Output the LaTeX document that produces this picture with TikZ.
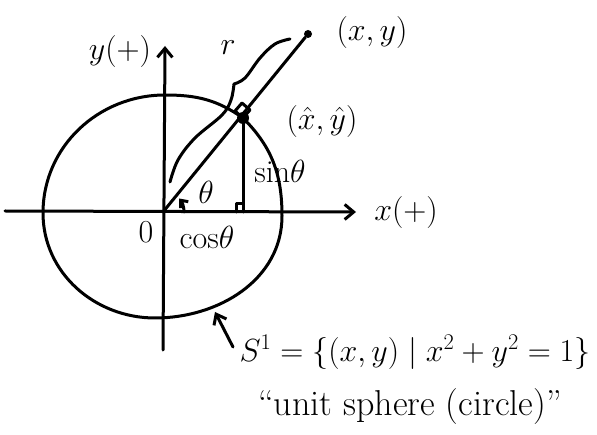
\documentclass[tikz,border=0pt]{standalone}
\usepackage{fix-cm}
\usepackage{amsmath,amssymb}
\usepackage{fontspec}
\usetikzlibrary{arrows.meta}

\begin{document}
\begin{tikzpicture}[
  x=1pt,y=1pt,
  pen/.style={line width=3pt, line cap=round, line join=round},
  axis/.style={pen, -{Straight Barb[length=9pt,width=15pt]}},
  lab/.style={font=\fontsize{32}{36}\selectfont, inner sep=0pt},
  dot/.style={circle, fill, inner sep=0pt, minimum size=#1}
]
\useasboundingbox (0,0) rectangle (597,434);

% -------------------------
% Axes
% -------------------------
\coordinate (O) at (163,222);
\coordinate (xl) at (5,223);
\coordinate (xr) at (356,222);
\coordinate (yb) at (163,84);
\coordinate (yt) at (165,388);
\draw[axis] (xl) -- (xr);
\draw[axis] (yb) -- (yt);
\node[lab] (xlab) at (406,221) {$x(+)$};
\node[lab] (ylab) at (120,382) {$y(+)$};
\node[lab] (olab) at (146,202) {$0$};

% -------------------------
% Ray, points and projection
% -------------------------
\node[dot=8pt] (P) at (308,400) {};
\node[dot=12pt] (Q) at (243,316) {};
\coordinate (F) at (243,222);

% unit circle (hand drawn), through Q
\draw[pen] (43,221) to[out=-90,in=180] (155,116)
  to[out=0,in=-90] (282,218) to[out=90,in=-45] (Q.center)
  to[out=145,in=0] (165,339) to[out=180,in=90] cycle;

\draw[pen] (O) -- (P);
\draw[pen] (Q.center) -- (F);
\draw[pen] (F) ++(-7,0) -- ++(0,8) -- ++(7,0);
\draw[pen] (Q.center) -- ++(-8,7) -- ++(7,8) -- ++(8,-7) -- cycle;
\node[lab] (plab) at (372,401) {$(x,y)$};
\node[lab] (qlab) at (322,312) {$(\hat{x},\hat{y})$};

% brace for r
\draw[pen] plot[smooth, tension=0.6] coordinates {
  (170,252) (178,274) (195,296) (222,319) (231,334) (234,350)};
\draw[pen] plot[smooth, tension=0.6] coordinates {
  (234,350) (245,356) (260,376) (275,390) (290,395)};
\node[lab] (rlab) at (228,386) {$r$};

% angle and sides
\draw[pen, -{Straight Barb[length=6pt,width=10pt]}] (O) ++(21,0) arc[start angle=0, end angle=40, radius=21];
\node[lab] (tlab) at (206,242) {$\theta$};
\node[lab] (slab) at (280,262) {$\mathrm{sin}\theta$};
\node[lab] (clab) at (207,196) {$\mathrm{cos}\theta$};

% -------------------------
% Set description
% -------------------------
\coordinate (stail) at (233,87);
\coordinate (stip) at (215,122);
\draw[pen, -{Straight Barb[length=9pt,width=14pt]}] (stail) -- (stip);
\node[lab] (set) at (415,82) {$S^1=\{(x,y)\mid x^2+y^2=1\}$};
\node[lab, font=\fontsize{36}{40}\selectfont] (name) at (410,27) {``unit sphere (circle)''};

\end{tikzpicture}
\end{document}
